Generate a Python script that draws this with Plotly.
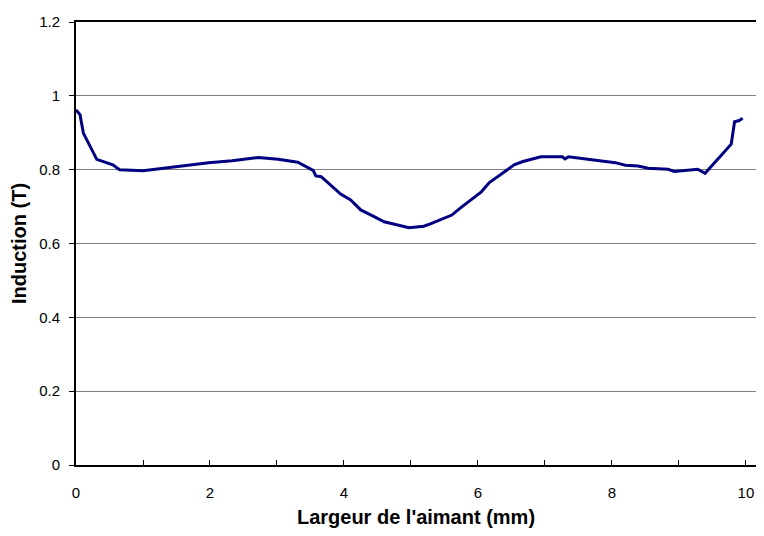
import plotly.graph_objects as go

# largeur (mm) et induction (T)
largeur = [0.0, 0.06, 0.11, 0.31, 0.55, 0.65, 1.0, 1.34, 1.98, 2.33, 2.72, 3.02, 3.31,
           3.54, 3.58, 3.66, 3.95, 4.10, 4.25, 4.45, 4.60, 4.97, 5.19, 5.29, 5.61,
           5.73, 6.05, 6.17, 6.54, 6.67, 6.94, 7.26, 7.30, 7.35, 7.70, 8.05, 8.20,
           8.39, 8.54, 8.84, 8.93, 9.28, 9.39, 9.78, 9.83, 9.90, 9.95]
induction = [0.962, 0.949, 0.899, 0.828, 0.813, 0.800, 0.797, 0.804, 0.819, 0.824, 0.833,
             0.828, 0.820, 0.798, 0.783, 0.781, 0.734, 0.718, 0.691, 0.673, 0.659,
             0.643, 0.647, 0.653, 0.677, 0.695, 0.740, 0.765, 0.813, 0.822, 0.835,
             0.835, 0.829, 0.835, 0.826, 0.819, 0.812, 0.810, 0.804, 0.801, 0.795,
             0.801, 0.790, 0.869, 0.930, 0.933, 0.939]

fig = go.Figure(go.Scatter(
    x=largeur, y=induction,
    mode='lines',
    line=dict(color='#000080', width=3),
    hoverinfo='skip'))

# la page a une marge de 8px autour de la figure -> 748x520 pour tenir sans ascenseur
fig.update_layout(
    width=748, height=520,
    margin=dict(l=68, r=0, t=14, b=63),
    plot_bgcolor='white', paper_bgcolor='white',
    font=dict(family='Liberation Sans, Arial', size=15, color='black'),
    showlegend=False)

fig.update_xaxes(
    range=[0, 10.15], dtick=2, tick0=0,
    showgrid=False, zeroline=False,
    showline=True, linecolor='black', linewidth=2, mirror=True,
    ticks='inside', ticklen=5, tickcolor='black', tickwidth=1,
    ticklabelstandoff=13,
    minor=dict(dtick=1, ticks='inside', ticklen=5, tickcolor='black', showgrid=False),
    title=dict(text="<b>Largeur de l'aimant (mm)</b>", font=dict(size=20), standoff=13),
    automargin=False)

fig.update_yaxes(
    range=[0, 1.2], dtick=0.2, tick0=0,
    showgrid=True, gridcolor='#808080', gridwidth=1, zeroline=False,
    showline=True, linecolor='black', linewidth=2,
    ticks='outside', ticklen=5, tickcolor='black', tickwidth=1,
    ticklabelstandoff=6,
    title=dict(text='<b>Induction (T)</b>', font=dict(size=20), standoff=8),
    automargin=False)

fig.write_html("out.html")
